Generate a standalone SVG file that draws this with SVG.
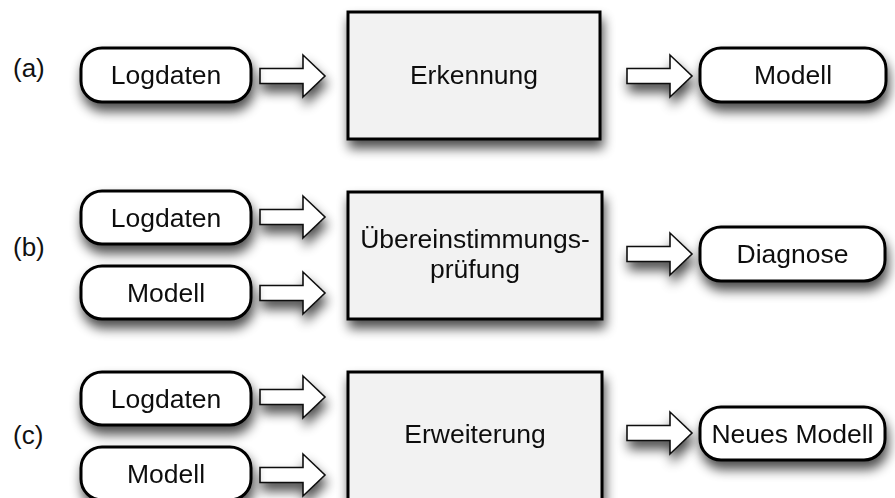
<svg xmlns="http://www.w3.org/2000/svg" width="895" height="498" viewBox="0 0 895 498">
<style>
  .pill { fill: #ffffff; stroke: #000000; stroke-width: 3; }
  .box { fill: #f2f2f2; stroke: #000000; stroke-width: 3; }
  .arrow { fill: #ffffff; stroke: #111111; stroke-width: 1.6; stroke-linejoin: miter; }
  text { font-family: "Liberation Sans", Arial, sans-serif; font-size: 26.5px; fill: #111111; text-anchor: middle; }
  .lbl { text-anchor: start; font-size: 26px; }
</style>
<defs>
  <filter id="sh" x="-20%" y="-30%" width="140%" height="180%">
    <feGaussianBlur in="SourceAlpha" stdDeviation="6"/>
    <feOffset dx="2" dy="8" result="b"/>
    <feComponentTransfer><feFuncA type="linear" slope="0.7"/></feComponentTransfer>
    <feMerge><feMergeNode/><feMergeNode in="SourceGraphic"/></feMerge>
  </filter>
  <path id="arr" d="M0,-7.5 H43 V-21 L65,0 L43,21 V7.5 H0 Z"/>
</defs>
<rect width="895" height="498" fill="#ffffff"/>

<g id="labels">
  <text class="lbl" x="13" y="77">(a)</text>
  <text class="lbl" x="13" y="256">(b)</text>
  <text class="lbl" x="13" y="444">(c)</text>
</g>

<g id="connectors" filter="url(#sh)">
  <use href="#arr" class="arrow" x="260" y="76"/>
  <use href="#arr" class="arrow" x="627" y="76"/>
  <use href="#arr" class="arrow" x="260" y="217"/>
  <use href="#arr" class="arrow" x="260" y="293"/>
  <use href="#arr" class="arrow" x="627" y="254"/>
  <use href="#arr" class="arrow" x="260" y="397"/>
  <use href="#arr" class="arrow" x="260" y="475"/>
  <use href="#arr" class="arrow" x="627" y="433"/>
</g>

<g id="a-logdaten" filter="url(#sh)">
  <rect class="pill" x="81" y="48" width="170" height="54" rx="21"/>
  <text x="166" y="84">Logdaten</text>
</g>
<g id="a-erkennung" filter="url(#sh)">
  <rect class="box" x="348" y="12" width="252" height="127"/>
  <text x="474" y="84">Erkennung</text>
</g>
<g id="a-modell" filter="url(#sh)">
  <rect class="pill" x="700" y="48" width="186" height="54" rx="21"/>
  <text x="793" y="84">Modell</text>
</g>

<g id="b-logdaten" filter="url(#sh)">
  <rect class="pill" x="81" y="191" width="170" height="53" rx="21"/>
  <text x="166" y="226.5">Logdaten</text>
</g>
<g id="b-modell" filter="url(#sh)">
  <rect class="pill" x="81" y="266" width="170" height="53" rx="21"/>
  <text x="166" y="301.5">Modell</text>
</g>
<g id="b-pruefung" filter="url(#sh)">
  <rect class="box" x="348" y="192" width="254" height="127"/>
  <text x="475" y="248">Übereinstimmungs-</text>
  <text x="475" y="278">prüfung</text>
</g>
<g id="b-diagnose" filter="url(#sh)">
  <rect class="pill" x="700" y="227" width="185" height="54" rx="21"/>
  <text x="792.5" y="263">Diagnose</text>
</g>

<g id="c-logdaten" filter="url(#sh)">
  <rect class="pill" x="81" y="372" width="170" height="53" rx="21"/>
  <text x="166" y="407.5">Logdaten</text>
</g>
<g id="c-modell" filter="url(#sh)">
  <rect class="pill" x="81" y="447" width="170" height="53" rx="21"/>
  <text x="166" y="482.5">Modell</text>
</g>
<g id="c-erweiterung" filter="url(#sh)">
  <rect class="box" x="348" y="372" width="254" height="128"/>
  <text x="475" y="443">Erweiterung</text>
</g>
<g id="c-neues-modell" filter="url(#sh)">
  <rect class="pill" x="700" y="407" width="185" height="53" rx="21"/>
  <text x="792.5" y="442.5">Neues Modell</text>
</g>
</svg>
